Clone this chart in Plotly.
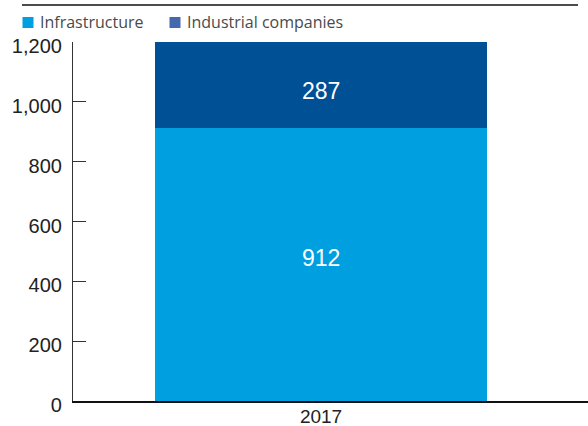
import plotly.graph_objects as go

categories = ["2017"]
infrastructure = [912]
industrial = [287]
series_names = ["Infrastructure", "Industrial companies"]
bar_colors = ["#009FDF", "#005096"]
legend_colors = ["#009FDF", "#4569AD"]
label_shift = [7, -6]  # pixel nudges of the value labels
y_ticks = [0, 200, 400, 600, 800, 1000, 1200]
y_ticklabels = ["0", "200", "400", "600", "800", "1,000", "1,200"]

L, T, B = 73, 42, 25
W, H = 588, 426
pw, ph = W - L, H - T - B

def px(x):
    return (x - L) / pw

def py(y):
    return (H - B - y) / ph

fig = go.Figure()
annotations = []
base = [0] * len(categories)
for i, (vals, name, col) in enumerate([(infrastructure, series_names[0], bar_colors[0]),
                                       (industrial, series_names[1], bar_colors[1])]):
    fig.add_trace(go.Bar(
        x=categories, y=vals, name=name, marker=dict(color=col, line=dict(width=0)),
        width=0.7, showlegend=False, hoverinfo="y+name",
    ))
    for j, v in enumerate(vals):
        annotations.append(dict(x=j, y=base[j] + v / 2, text=str(v),
                                showarrow=False, yshift=label_shift[i],
                                font=dict(color="white", size=23, family="Liberation Sans")))
        base[j] += v

shapes = [dict(type="line", xref="paper", yref="paper", x0=px(22), x1=px(578),
               y0=py(5), y1=py(5), line=dict(color="#111", width=1.5))]
leg_x = [22.5, 169.5]
for i, name in enumerate(series_names):
    shapes.append(dict(type="rect", xref="paper", yref="paper",
                       x0=px(leg_x[i]), x1=px(leg_x[i] + 11), y0=py(17), y1=py(28),
                       fillcolor=legend_colors[i], line=dict(width=0)))
    annotations.append(dict(xref="paper", yref="paper", x=px(leg_x[i] + 15), y=py(22.5),
                            xanchor="left", yanchor="middle", showarrow=False, text=name,
                            font=dict(size=16, color="#4a4a4a", family="Open Sans")))

fig.update_layout(
    barmode="stack",
    width=W, height=H,
    margin=dict(l=L, r=0, t=T, b=B, pad=0),
    paper_bgcolor="white", plot_bgcolor="white",
    shapes=shapes, annotations=annotations,
    font=dict(family="Liberation Sans", color="#222"),
    xaxis=dict(type="category", range=[-0.523, 0.563], showline=True, linecolor="#111",
               linewidth=1.5, ticks="", tickfont=dict(size=19, color="#222"), showgrid=False,
               layer="below traces", fixedrange=True, ticklabelstandoff=-3, automargin=False),
    yaxis=dict(range=[0, 1200], tickvals=y_ticks, ticktext=y_ticklabels,
               showline=True, linecolor="#333", linewidth=1.2, ticks="inside",
               ticklen=13, tickcolor="#333", tickwidth=1.2, showgrid=False,
               zeroline=False, tickfont=dict(size=20, color="#222"),
               ticklabelstandoff=6, ticklabelshift=4, fixedrange=True, automargin=False),
)

fig.write_html("out.html", config={"displayModeBar": False},
               post_script="document.body.style.margin='0';document.body.style.overflow='hidden';")
